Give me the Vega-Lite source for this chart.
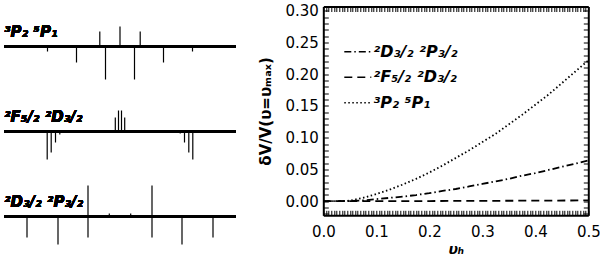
{
  "$schema": "https://vega.github.io/schema/vega-lite/v6.json",
  "background": "white",
  "padding": {"left": 3, "top": 3.5, "right": 0, "bottom": 0},
  "bounds": "flush",
  "spacing": 87.3,
  "config": {"view": {"stroke": null}, "font": "DejaVu Sans"},
  "hconcat": [
    {
      "width": 232, "height": 255,
      "layer": [
        {
          "data": {"values": [
            {"pos": -72.5, "h": -5}, {"pos": -43.5, "h": -16}, {"pos": -20.2, "h": 15}, {"pos": -14.5, "h": -33}, {"pos": 0, "h": 20},
            {"pos": 14.5, "h": -33}, {"pos": 20.2, "h": 15}, {"pos": 43.5, "h": -16}, {"pos": 72.5, "h": -5}
          ]},
          "layer": [
            {"mark": {"type": "rule", "strokeWidth": 2, "color": "black"},
             "encoding": {"y": {"datum": 0, "type": "quantitative", "scale": {"domain": [-215, 40], "nice": false}, "axis": null}}},
            {"mark": {"type": "rule", "strokeWidth": 1.2, "color": "black"},
             "encoding": {
               "x": {"field": "pos", "type": "quantitative", "scale": {"domain": [-116, 116], "nice": false}, "axis": null},
               "y": {"field": "h", "type": "quantitative", "scale": {"domain": [-215, 40], "nice": false}, "axis": null},
               "y2": {"datum": 0}}},
            {"mark": {"type": "text", "text": "³P₂ ⁵P₁", "align": "left", "baseline": "alphabetic", "font": "DejaVu Sans", "fontSize": 15, "fontWeight": "bold", "fontStyle": "italic", "color": "black"},
             "encoding": {"x": {"datum": -116, "type": "quantitative"}, "y": {"datum": 9.5, "type": "quantitative"}}}
          ]
        },
        {
          "data": {"values": [
            {"pos": -72.8, "h": -28}, {"pos": -68.8, "h": -21}, {"pos": -64.5, "h": -11}, {"pos": -60.2, "h": -3},
            {"pos": -4.7, "h": 14}, {"pos": -1.5, "h": 21}, {"pos": 1.5, "h": 21}, {"pos": 4.7, "h": 14},
            {"pos": 60.2, "h": -2}, {"pos": 64.5, "h": -11}, {"pos": 68.8, "h": -21}, {"pos": 72.8, "h": -28}
          ]},
          "layer": [
            {"mark": {"type": "rule", "strokeWidth": 2, "color": "black"},
             "encoding": {"y": {"datum": 0, "type": "quantitative", "scale": {"domain": [-130, 125], "nice": false}, "axis": null}}},
            {"mark": {"type": "rule", "strokeWidth": 1.2, "color": "black"},
             "encoding": {
               "x": {"field": "pos", "type": "quantitative", "scale": {"domain": [-116, 116], "nice": false}, "axis": null},
               "y": {"field": "h", "type": "quantitative", "scale": {"domain": [-130, 125], "nice": false}, "axis": null},
               "y2": {"datum": 0}}},
            {"mark": {"type": "text", "text": "²F₅/₂ ²D₃/₂", "align": "left", "baseline": "alphabetic", "font": "DejaVu Sans", "fontSize": 15, "fontWeight": "bold", "fontStyle": "italic", "color": "black"},
             "encoding": {"x": {"datum": -116, "type": "quantitative"}, "y": {"datum": 10, "type": "quantitative"}}}
          ]
        },
        {
          "data": {"values": [
            {"pos": -93, "h": -21}, {"pos": -62, "h": -28}, {"pos": -32, "h": 31}, {"pos": -32, "h": -21}, {"pos": -10.7, "h": 3},
            {"pos": 10.7, "h": 3}, {"pos": 32, "h": 31}, {"pos": 32, "h": -21}, {"pos": 62, "h": -28}, {"pos": 93, "h": -21}
          ]},
          "layer": [
            {"mark": {"type": "rule", "strokeWidth": 2, "color": "black"},
             "encoding": {"y": {"datum": 0, "type": "quantitative", "scale": {"domain": [-45, 210], "nice": false}, "axis": null}}},
            {"mark": {"type": "rule", "strokeWidth": 1.2, "color": "black"},
             "encoding": {
               "x": {"field": "pos", "type": "quantitative", "scale": {"domain": [-116, 116], "nice": false}, "axis": null},
               "y": {"field": "h", "type": "quantitative", "scale": {"domain": [-45, 210], "nice": false}, "axis": null},
               "y2": {"datum": 0}}},
            {"mark": {"type": "text", "text": "²D₃/₂ ²P₃/₂", "align": "left", "baseline": "alphabetic", "font": "DejaVu Sans", "fontSize": 15, "fontWeight": "bold", "fontStyle": "italic", "color": "black"},
             "encoding": {"x": {"datum": -116, "type": "quantitative"}, "y": {"datum": 9.5, "type": "quantitative"}}}
          ]
        }
      ],
      "resolve": {"scale": {"y": "independent"}}
    },
    {
      "width": 265, "height": 208.8,
      "data": {"values": [
        {"x": 0, "y": 0, "s": "²D₃/₂ ²P₃/₂"}, {"x": 0.025, "y": 0, "s": "²D₃/₂ ²P₃/₂"}, {"x": 0.05, "y": 0, "s": "²D₃/₂ ²P₃/₂"},
        {"x": 0.075, "y": 0.001, "s": "²D₃/₂ ²P₃/₂"}, {"x": 0.1, "y": 0.003, "s": "²D₃/₂ ²P₃/₂"}, {"x": 0.125, "y": 0.005, "s": "²D₃/₂ ²P₃/₂"},
        {"x": 0.15, "y": 0.007, "s": "²D₃/₂ ²P₃/₂"}, {"x": 0.175, "y": 0.0095, "s": "²D₃/₂ ²P₃/₂"}, {"x": 0.2, "y": 0.0125, "s": "²D₃/₂ ²P₃/₂"},
        {"x": 0.225, "y": 0.016, "s": "²D₃/₂ ²P₃/₂"}, {"x": 0.25, "y": 0.019, "s": "²D₃/₂ ²P₃/₂"}, {"x": 0.275, "y": 0.023, "s": "²D₃/₂ ²P₃/₂"},
        {"x": 0.3, "y": 0.027, "s": "²D₃/₂ ²P₃/₂"}, {"x": 0.325, "y": 0.031, "s": "²D₃/₂ ²P₃/₂"}, {"x": 0.35, "y": 0.035, "s": "²D₃/₂ ²P₃/₂"},
        {"x": 0.375, "y": 0.04, "s": "²D₃/₂ ²P₃/₂"}, {"x": 0.4, "y": 0.044, "s": "²D₃/₂ ²P₃/₂"}, {"x": 0.425, "y": 0.049, "s": "²D₃/₂ ²P₃/₂"},
        {"x": 0.45, "y": 0.054, "s": "²D₃/₂ ²P₃/₂"}, {"x": 0.475, "y": 0.059, "s": "²D₃/₂ ²P₃/₂"}, {"x": 0.5, "y": 0.064, "s": "²D₃/₂ ²P₃/₂"},
        {"x": 0, "y": 0, "s": "²F₅/₂ ²D₃/₂"}, {"x": 0.1, "y": 0, "s": "²F₅/₂ ²D₃/₂"}, {"x": 0.2, "y": 0, "s": "²F₅/₂ ²D₃/₂"},
        {"x": 0.3, "y": 0.0003, "s": "²F₅/₂ ²D₃/₂"}, {"x": 0.4, "y": 0.0006, "s": "²F₅/₂ ²D₃/₂"}, {"x": 0.5, "y": 0.001, "s": "²F₅/₂ ²D₃/₂"},
        {"x": 0, "y": 0, "s": "³P₂ ⁵P₁"}, {"x": 0.025, "y": 0, "s": "³P₂ ⁵P₁"}, {"x": 0.05, "y": 0.0005, "s": "³P₂ ⁵P₁"},
        {"x": 0.075, "y": 0.005, "s": "³P₂ ⁵P₁"}, {"x": 0.1, "y": 0.011, "s": "³P₂ ⁵P₁"}, {"x": 0.125, "y": 0.018, "s": "³P₂ ⁵P₁"},
        {"x": 0.15, "y": 0.026, "s": "³P₂ ⁵P₁"}, {"x": 0.175, "y": 0.035, "s": "³P₂ ⁵P₁"}, {"x": 0.2, "y": 0.045, "s": "³P₂ ⁵P₁"},
        {"x": 0.225, "y": 0.056, "s": "³P₂ ⁵P₁"}, {"x": 0.25, "y": 0.068, "s": "³P₂ ⁵P₁"}, {"x": 0.275, "y": 0.08, "s": "³P₂ ⁵P₁"},
        {"x": 0.3, "y": 0.093, "s": "³P₂ ⁵P₁"}, {"x": 0.325, "y": 0.106, "s": "³P₂ ⁵P₁"}, {"x": 0.35, "y": 0.121, "s": "³P₂ ⁵P₁"},
        {"x": 0.375, "y": 0.136, "s": "³P₂ ⁵P₁"}, {"x": 0.4, "y": 0.152, "s": "³P₂ ⁵P₁"}, {"x": 0.425, "y": 0.168, "s": "³P₂ ⁵P₁"},
        {"x": 0.45, "y": 0.186, "s": "³P₂ ⁵P₁"}, {"x": 0.475, "y": 0.204, "s": "³P₂ ⁵P₁"}, {"x": 0.5, "y": 0.222, "s": "³P₂ ⁵P₁"}
      ]},
      "layer": [
        {
          "transform": [{"filter": "datum.s !== '³P₂ ⁵P₁'"}],
          "mark": {"type": "line", "color": "black", "strokeWidth": 1.8},
          "encoding": {
            "x": {"field": "x", "type": "quantitative", "scale": {"domain": [0, 0.5], "nice": false, "zero": false},
              "axis": {"orient": "bottom", "title": "υₕ", "titleFontSize": 14, "titleFontWeight": "bold", "titleFontStyle": "italic", "titleColor": "black", "titlePadding": 3,
                "values": [0,0.005,0.01,0.015,0.02,0.025,0.03,0.035,0.04,0.045,0.05,0.055,0.06,0.065,0.07,0.075,0.08,0.085,0.09,0.095,0.1,0.105,0.11,0.115,0.12,0.125,0.13,0.135,0.14,0.145,0.15,0.155,0.16,0.165,0.17,0.175,0.18,0.185,0.19,0.195,0.2,0.205,0.21,0.215,0.22,0.225,0.23,0.235,0.24,0.245,0.25,0.255,0.26,0.265,0.27,0.275,0.28,0.285,0.29,0.295,0.3,0.305,0.31,0.315,0.32,0.325,0.33,0.335,0.34,0.345,0.35,0.355,0.36,0.365,0.37,0.375,0.38,0.385,0.39,0.395,0.4,0.405,0.41,0.415,0.42,0.425,0.43,0.435,0.44,0.445,0.45,0.455,0.46,0.465,0.47,0.475,0.48,0.485,0.49,0.495,0.5],
                "labelExpr": "abs(datum.value*10 - round(datum.value*10)) < 1e-6 ? format(datum.value, '.1f') : ''",
                "labelFontSize": 15, "labelColor": "black", "labelPadding": 14, "labelFlush": false, "labelOverlap": false, "labelBound": false,
                "tickSize": -5, "tickColor": "black", "tickWidth": 1, "domainColor": "black", "domainWidth": 2, "grid": false,
                "encode": {"ticks": {"update": {"y2": {"signal": "abs(datum.value*10 - round(datum.value*10)) < 1e-6 ? -5 : -2.5"}}}}}},
            "y": {"field": "y", "type": "quantitative", "scale": {"domain": [-0.0225, 0.307], "nice": false, "zero": false},
              "axis": {"orient": "left", "title": "δV/V(υ=υₘₐₓ)", "titleFontSize": 15, "titleFontWeight": "bold", "titleColor": "black", "titlePadding": 11,
                "values": [-0.02,-0.01,0,0.01,0.02,0.03,0.04,0.05,0.06,0.07,0.08,0.09,0.1,0.11,0.12,0.13,0.14,0.15,0.16,0.17,0.18,0.19,0.2,0.21,0.22,0.23,0.24,0.25,0.26,0.27,0.28,0.29,0.3],
                "labelExpr": "abs(datum.value*20 - round(datum.value*20)) < 1e-6 ? format(datum.value, '.2f') : ''",
                "labelFontSize": 15, "labelColor": "black", "labelPadding": 10, "labelFlush": false, "labelOverlap": false, "labelBound": false,
                "tickSize": -5, "tickColor": "black", "tickWidth": 1, "domainColor": "black", "domainWidth": 2, "grid": false,
                "encode": {"ticks": {"update": {"x2": {"signal": "abs(datum.value*20 - round(datum.value*20)) < 1e-6 ? 5 : 2.5"}}}}}},
            "strokeDash": {"field": "s", "type": "nominal",
              "scale": {"domain": ["²D₃/₂ ²P₃/₂", "²F₅/₂ ²D₃/₂", "³P₂ ⁵P₁"], "range": [[7, 3, 1.5, 3], [8, 5], [1.5, 2.5]]},
              "legend": {"orient": "none", "legendX": 339.3, "legendY": 30.7, "title": null, "symbolType": "stroke", "symbolSize": 729, "symbolStrokeWidth": 1.5, "symbolStrokeColor": "black",
                "labelFont": "DejaVu Sans", "labelFontSize": 16, "labelFontWeight": "bold", "labelFontStyle": "italic", "labelColor": "black", "rowPadding": 2.5, "labelOffset": 1}}
          }
        },
        {
          "transform": [{"filter": "datum.s === '³P₂ ⁵P₁'"}],
          "mark": {"type": "line", "color": "black", "strokeWidth": 1.8},
          "encoding": {
            "x": {"field": "x", "type": "quantitative", "scale": {"domain": [0, 0.5], "nice": false, "zero": false},
              "axis": {"orient": "top", "title": null, "labels": false,
                "values": [0,0.005,0.01,0.015,0.02,0.025,0.03,0.035,0.04,0.045,0.05,0.055,0.06,0.065,0.07,0.075,0.08,0.085,0.09,0.095,0.1,0.105,0.11,0.115,0.12,0.125,0.13,0.135,0.14,0.145,0.15,0.155,0.16,0.165,0.17,0.175,0.18,0.185,0.19,0.195,0.2,0.205,0.21,0.215,0.22,0.225,0.23,0.235,0.24,0.245,0.25,0.255,0.26,0.265,0.27,0.275,0.28,0.285,0.29,0.295,0.3,0.305,0.31,0.315,0.32,0.325,0.33,0.335,0.34,0.345,0.35,0.355,0.36,0.365,0.37,0.375,0.38,0.385,0.39,0.395,0.4,0.405,0.41,0.415,0.42,0.425,0.43,0.435,0.44,0.445,0.45,0.455,0.46,0.465,0.47,0.475,0.48,0.485,0.49,0.495,0.5],
                "tickSize": -5, "tickColor": "black", "tickWidth": 1, "domainColor": "black", "domainWidth": 2, "grid": false,
                "encode": {"ticks": {"update": {"y2": {"signal": "abs(datum.value*10 - round(datum.value*10)) < 1e-6 ? 5 : 2.5"}}}}}},
            "y": {"field": "y", "type": "quantitative", "scale": {"domain": [-0.0225, 0.307], "nice": false, "zero": false},
              "axis": {"orient": "right", "title": null, "labels": false,
                "values": [-0.02,-0.01,0,0.01,0.02,0.03,0.04,0.05,0.06,0.07,0.08,0.09,0.1,0.11,0.12,0.13,0.14,0.15,0.16,0.17,0.18,0.19,0.2,0.21,0.22,0.23,0.24,0.25,0.26,0.27,0.28,0.29,0.3],
                "tickSize": -5, "tickColor": "black", "tickWidth": 1, "domainColor": "black", "domainWidth": 2, "grid": false,
                "encode": {"ticks": {"update": {"x2": {"signal": "abs(datum.value*20 - round(datum.value*20)) < 1e-6 ? -5 : -2.5"}}}}}},
            "strokeDash": {"field": "s", "type": "nominal",
              "scale": {"domain": ["²D₃/₂ ²P₃/₂", "²F₅/₂ ²D₃/₂", "³P₂ ⁵P₁"], "range": [[7, 3, 1.5, 3], [8, 5], [1.5, 2.5]]},
              "legend": {"orient": "none", "legendX": 339.3, "legendY": 30.7, "title": null, "symbolType": "stroke", "symbolSize": 729, "symbolStrokeWidth": 1.5, "symbolStrokeColor": "black",
                "labelFont": "DejaVu Sans", "labelFontSize": 16, "labelFontWeight": "bold", "labelFontStyle": "italic", "labelColor": "black", "rowPadding": 2.5, "labelOffset": 1}}
          }
        }
      ],
      "resolve": {"axis": {"x": "independent", "y": "independent"}}
    }
  ]
}
